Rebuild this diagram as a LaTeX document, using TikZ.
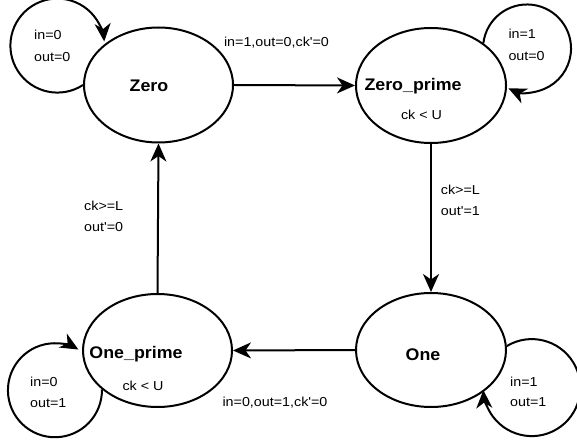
\documentclass[tikz,border=0pt]{standalone}
\usepackage{fontspec}
\newfontfamily\lblfont[FakeStretch=1.1]{Liberation Sans}
\newfontfamily\stfont[FakeStretch=1.06]{Liberation Sans}
\usetikzlibrary{arrows.meta,shapes.geometric}
\begin{document}
\begin{tikzpicture}[x=1pt,y=-1pt,
  st/.style={ellipse,draw,line width=2pt,inner sep=0pt},
  arr/.style={line width=2pt,-{Stealth[length=18pt,width=16pt,inset=5.5pt]}},
  lbl/.style={inner sep=0pt,font=\lblfont\fontsize{13}{15}\selectfont},
  lblw/.style={lbl,anchor=base west},
  lblc/.style={lbl,anchor=base},
  stl/.style={inner sep=0pt,anchor=base,font=\stfont\bfseries\fontsize{16.8}{19}\selectfont}]
\useasboundingbox (0,0) rectangle (577,446);
% states
\node[st,minimum width=149pt,minimum height=115pt] (zero) at (158.5,85) {};
\node[st,minimum width=150pt,minimum height=115pt] (zeroprime) at (431,85.5) {};
\node[st,minimum width=150pt,minimum height=114pt] (one) at (431,350) {};
\node[st,minimum width=149pt,minimum height=113pt] (oneprime) at (157.5,350.5) {};
% state texts
\node[stl] (tzero) at (149,91.7) {Zero};
\node[stl] (tzp) at (413,90.5) {Zero\_prime};
\node[lblc] (tzpc) at (421.5,120) {ck < U};
\node[stl] (top) at (136,358.3) {One\_prime};
\node[lblc] (topc) at (143,390.7) {ck < U};
\node[stl] (tone) at (423,360) {One};
% transitions
\draw[arr] (zero.east) -- (zeroprime.west);
\draw[arr] (zeroprime.south) -- (one.north);
\draw[arr] (one.west) -- (oneprime.east);
\draw[arr] (oneprime.north) -- (zero.south);
% self loops
\draw[arr] (zero.west) arc[start angle=57,end angle=355,radius=47];
\draw[arr] (zeroprime.39) arc[start angle=-173,end angle=115,radius=44];
\draw[arr] (oneprime.215) arc[start angle=-1,end angle=300,radius=47];
\draw[arr] (one.3) arc[start angle=-121,end angle=177,radius=48.5];
% labels
\node[lblw] (a1) at (34,40) {in=0};
\node[lblw] (a2) at (34,61.7) {out=0};
\node[lblw] (b1) at (508.3,39) {in=1};
\node[lblw] (b2) at (508.3,60.5) {out=0};
\node[lblw] (c1) at (30,386.7) {in=0};
\node[lblw] (c2) at (30,407.7) {out=1};
\node[lblw] (d1) at (510,386) {in=1};
\node[lblw] (d2) at (510,406.7) {out=1};
\node[lblc] (e1) at (276.5,46.7) {in=1,out=0,ck'=0};
\node[lblc] (e2) at (275,406) {in=0,out=1,ck'=0};
\node[lblw] (f1) at (84,211) {ck>=L};
\node[lblw] (f2) at (84,231.7) {out'=0};
\node[lblw] (g1) at (440.7,195) {ck>=L};
\node[lblw] (g2) at (440.7,215.7) {out'=1};
\end{tikzpicture}
\end{document}
